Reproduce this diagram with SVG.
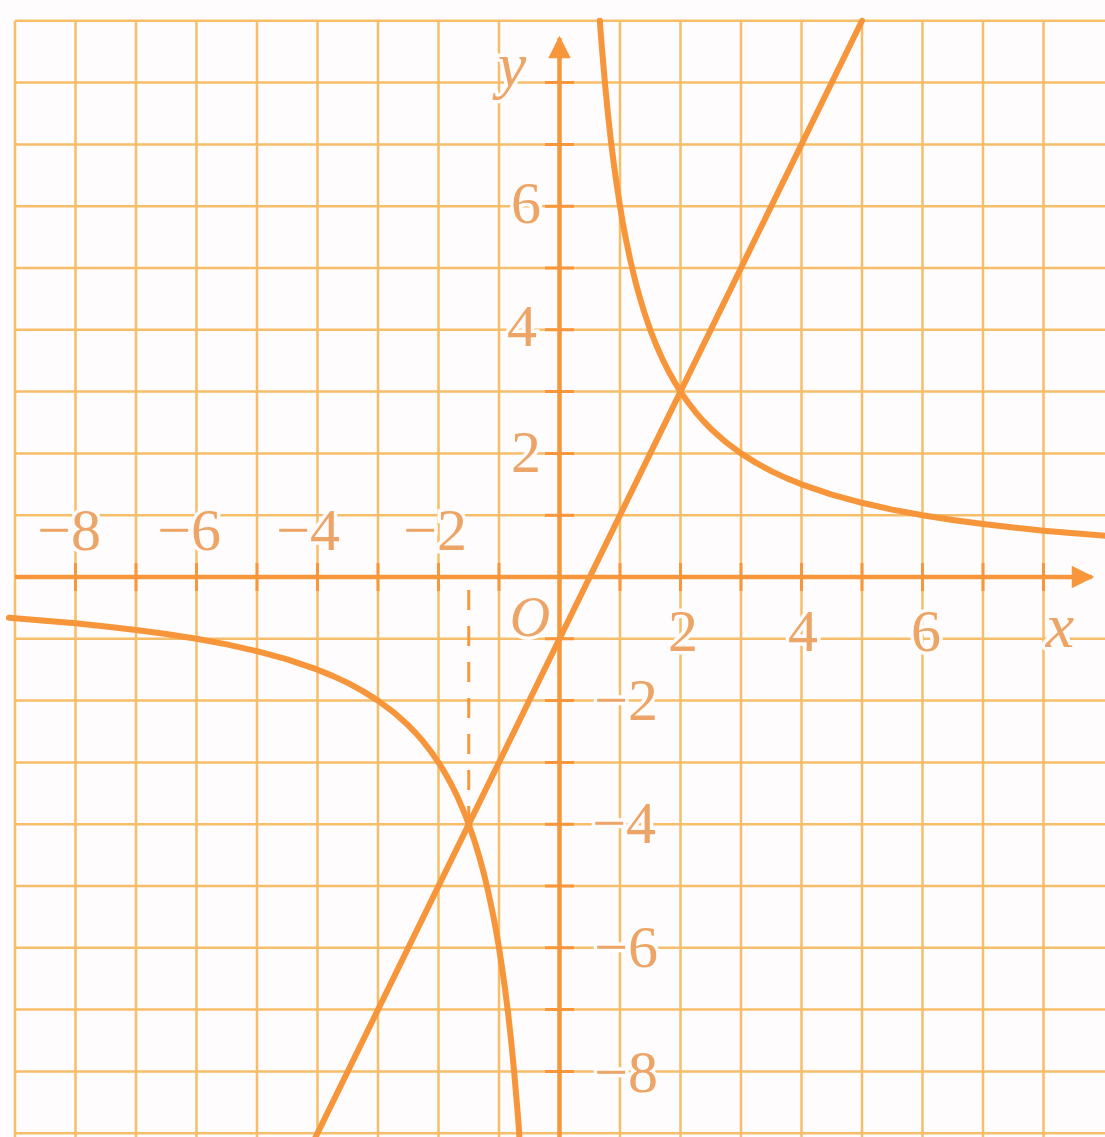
<svg xmlns="http://www.w3.org/2000/svg" width="1105" height="1137" viewBox="0 0 1105 1137">
<style>
.grid{stroke:#f6bd6a;stroke-width:2.5;fill:none}
.axis{stroke:#f7963a;stroke-width:4.5;fill:none}
.tick{stroke:#f7963a;stroke-width:3}
.curve{stroke:#f7953a;stroke-width:6;fill:none;stroke-linejoin:round;stroke-linecap:round}
.dash{stroke:#f7963a;stroke-width:3;stroke-dasharray:20 16;fill:none}
.lbl{font-family:"Liberation Serif","Times New Roman",serif;font-size:60px;fill:#eca467;stroke:#fefcfc;stroke-width:7;paint-order:stroke}
.it{font-style:italic}
</style>
<defs>
<marker id="arr" viewBox="0 0 10 10" refX="9" refY="5" markerWidth="5.5" markerHeight="5" orient="auto" markerUnits="strokeWidth">
<path d="M0,0 L10,5 L0,10 Z" fill="#f7963a"/>
</marker>
</defs>
<rect x="0" y="0" width="1105" height="1137" fill="#fefcfc"/>
<g id="grid">
<path class="grid" d="M15,20.8V1137 M75.5,20.8V1137 M136,20.8V1137 M196.5,20.8V1137 M257,20.8V1137 M317.5,20.8V1137 M378,20.8V1137 M438.5,20.8V1137 M499,20.8V1137 M620,20.8V1137 M680.5,20.8V1137 M741,20.8V1137 M801.5,20.8V1137 M862,20.8V1137 M922.5,20.8V1137 M983,20.8V1137 M1043.5,20.8V1137"/>
<path class="grid" d="M15,20.8H1105 M15,82.6H1105 M15,144.4H1105 M15,206.2H1105 M15,268H1105 M15,329.8H1105 M15,391.6H1105 M15,453.4H1105 M15,515.2H1105 M15,638.8H1105 M15,700.6H1105 M15,762.4H1105 M15,824.2H1105 M15,886H1105 M15,947.8H1105 M15,1009.6H1105 M15,1071.4H1105 M15,1133.2H1105"/>
</g>
<g id="labels">
<text class="lbl" x="101" y="550" text-anchor="end">−8</text>
<text class="lbl" x="221" y="550" text-anchor="end">−6</text>
<text class="lbl" x="340" y="550" text-anchor="end">−4</text>
<text class="lbl" x="467" y="550" text-anchor="end">−2</text>
<text class="lbl" x="683" y="651" text-anchor="middle">2</text>
<text class="lbl" x="803" y="651" text-anchor="middle">4</text>
<text class="lbl" x="926" y="651" text-anchor="middle">6</text>
<text class="lbl it" x="1060" y="647" text-anchor="middle" style="font-size:64px">x</text>
<text class="lbl it" x="530" y="636" text-anchor="middle" style="font-size:56px">O</text>
<text class="lbl it" x="512" y="86" text-anchor="middle" style="font-size:64px">y</text>
<text class="lbl" x="541" y="223" text-anchor="end">6</text>
<text class="lbl" x="537" y="346" text-anchor="end">4</text>
<text class="lbl" x="541" y="472" text-anchor="end">2</text>
<text class="lbl" x="658" y="720" text-anchor="end">−2</text>
<text class="lbl" x="656" y="843" text-anchor="end">−4</text>
<text class="lbl" x="658" y="967" text-anchor="end">−6</text>
<text class="lbl" x="658" y="1092" text-anchor="end">−8</text>
</g>
<g id="axes">
<path class="axis" d="M15,577H1092" marker-end="url(#arr)"/>
<path class="axis" d="M559.5,1137V38" marker-end="url(#arr)"/>
<path class="tick" d="M75.5,563v28 M136,563v28 M196.5,563v28 M257,563v28 M317.5,563v28 M378,563v28 M438.5,563v28 M499,563v28 M620,563v28 M680.5,563v28 M741,563v28 M801.5,563v28 M862,563v28 M922.5,563v28 M983,563v28 M1043.5,563v28"/>
<path class="tick" d="M545,82.6h29 M545,144.4h29 M545,206.2h29 M545,268h29 M545,329.8h29 M545,391.6h29 M545,453.4h29 M545,515.2h29 M545,638.8h29 M545,700.6h29 M545,762.4h29 M545,824.2h29 M545,886h29 M545,947.8h29 M545,1009.6h29 M545,1071.4h29"/>
</g>
<g id="connectors">
<path class="dash" d="M468.75,590V824"/>
<path id="line" class="curve" d="M314.2,1140L862,20.8"/>
<path id="hyperbola-right" class="curve" d="M599.8,20.8 L600.8,34.4 L601.85,47.3 L604.9,82.6 L607.9,113.5 L610.9,140.8 L613.95,165 L617,186.7 L620,206.2 L623,223.9 L626.05,239.9 L630.6,261.4 L635.1,280.4 L639.7,297.2 L644.2,312.1 L650.25,329.8 L656.3,345.25 L662.35,358.9 L668.4,371 L674.45,381.8 L680.5,391.6 L688.1,402.5 L695.6,412.2 L703.2,420.9 L710.75,428.7 L725.9,442.2 L741,453.4 L756.1,462.9 L771.25,471.1 L786.4,478.1 L801.5,484.3 L831.75,494.6 L862,502.8 L892.25,509.6 L922.5,515.2 L952.75,519.95 L983,524 L1013.25,527.56 L1043.5,530.65 L1110,536.25"/>
<path id="hyperbola-left" class="curve" d="M9,617.75 L75.5,623.35 L105.75,626.44 L136,630 L166.25,634.05 L196.5,638.8 L226.75,644.4 L257,651.2 L287.25,659.4 L317.5,669.7 L332.6,675.9 L347.75,682.9 L362.9,691.1 L378,700.6 L393.1,711.8 L408.25,725.3 L415.8,733.1 L423.4,741.8 L430.9,751.5 L438.5,762.4 L444.55,772.2 L450.6,783 L456.65,795.1 L462.7,808.75 L468.75,824.2 L474.8,841.9 L479.3,856.8 L483.9,873.6 L488.4,892.6 L492.95,914.1 L496,930.1 L499,947.8 L502,967.3 L505.05,989 L508.1,1013.2 L511.1,1040.5 L514.1,1071.4 L517.15,1106.7 L518.2,1119.6 L519.2,1133.2 L519.6,1145"/>
</g>
</svg>
